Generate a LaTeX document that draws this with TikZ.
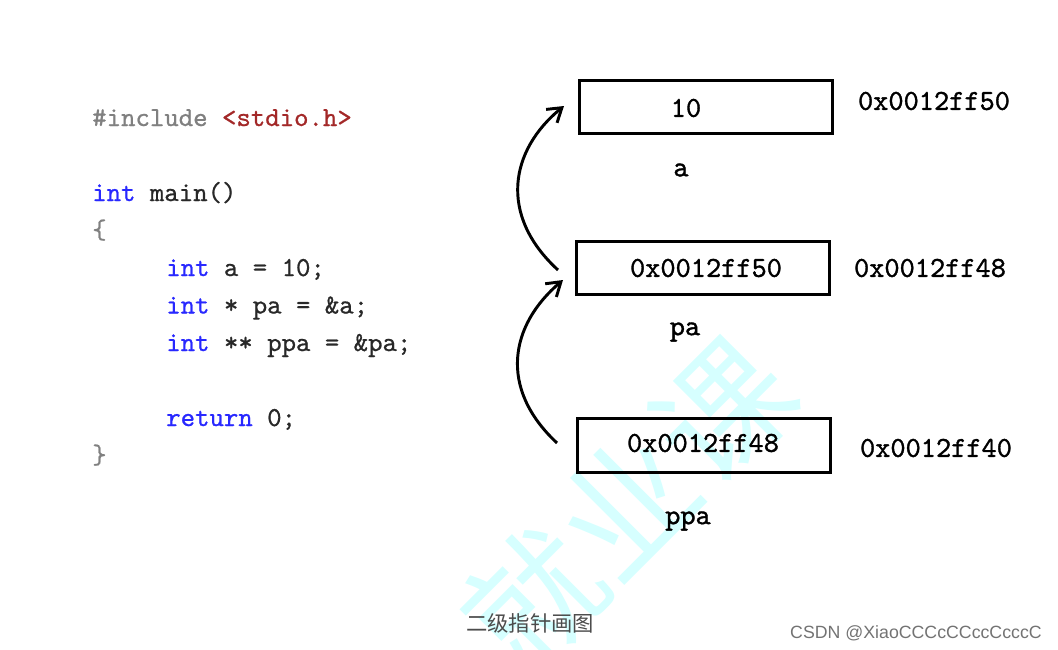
\documentclass[tikz,border=0pt]{standalone}
\usepackage{fontspec}
\newfontfamily\cjk{Noto Sans CJK SC}
\newfontfamily\csdnfont{Liberation Sans}
\newfontfamily\codefont{lmmono10-regular.otf}[FakeBold=0.7]
\newfontfamily\memfont{lmmono10-regular.otf}[FakeBold=1.2]
\usetikzlibrary{arrows.meta}
\definecolor{kwblue}{RGB}{40,40,255}
\definecolor{ppgray}{RGB}{128,128,128}
\definecolor{strred}{RGB}{163,40,40}
\definecolor{codetxt}{RGB}{40,40,40}
\definecolor{wmcyan}{RGB}{120,255,255}
\begin{document}
\begin{tikzpicture}[x=0.75pt,y=-0.75pt,
  codeline/.style={anchor=base west,inner sep=0pt,font=\codefont\fontsize{20.6pt}{24pt}\selectfont,text=codetxt},
  membox/.style={draw,line width=2.2pt,minimum width=190pt,minimum height=40pt,inner sep=0pt},
  memtxt/.style={inner sep=0pt,font=\memfont\fontsize{21.7pt}{24pt}\selectfont,text=black},
  ptrarrow/.style={line width=2.2pt,-{Straight Barb[length=10pt,width=13pt,line width=2.2pt]}},
]
\useasboundingbox (0,0) rectangle (1058,650);
\fill[white] (0,0) rectangle (1058,650);

% watermark
\node[rotate=45,text=wmcyan,opacity=0.3,font=\cjk\fontsize{100pt}{100pt}\selectfont,inner sep=0pt] (wm) at (628,505) {就业课};

% code
\node[codeline] (l0) at (92,126) {\textcolor{ppgray}{\#include} \textcolor{strred}{<stdio.h>}};
\node[codeline] (l2) at (92,201) {\textcolor{kwblue}{int} main()};
\node[codeline] (l3) at (92,238.5) {\textcolor{ppgray}{\{}};
\node[codeline] (l4) at (166,276) {\textcolor{kwblue}{int} a = 10;};
\node[codeline] (l5) at (166,313.5) {\textcolor{kwblue}{int} * pa = \&a;};
\node[codeline] (l6) at (166,351) {\textcolor{kwblue}{int} ** ppa = \&pa;};
\node[codeline] (l8) at (166,426) {\textcolor{kwblue}{return} 0;};
\node[codeline] (l9) at (92,463.5) {\textcolor{ppgray}{\}}};

% memory boxes
\node[membox] (b1) at (706,107) {};
\node[membox] (b2) at (703,268) {};
\node[membox] (b3) at (704,445.5) {};
\node[memtxt] (v1) at (686,108) {10};
\node[memtxt] (v2) at (706,268) {0x0012ff50};
\node[memtxt] (v3) at (703,443) {0x0012ff48};
\node[memtxt] (n1) at (681,170) {a};
\node[memtxt] (n2) at (685,332) {pa};
\node[memtxt] (n3) at (688,521) {ppa};
\node[memtxt] (ad1) at (934,101) {0x0012ff50};
\node[memtxt] (ad2) at (930,268) {0x0012ff48};
\node[memtxt] (ad3) at (936,448) {0x0012ff40};

% arrows
\coordinate (s1) at (558,270);
\coordinate (e1) at (564,106);
\coordinate (s2) at (557,443);
\coordinate (e2) at (563,280);
\draw[ptrarrow] (s1) .. controls (498,215) and (510,150) .. (e1);
\draw[ptrarrow] (s2) .. controls (498,388) and (510,325) .. (e2);

% captions
\node[text=black!70,font=\cjk\fontsize{16pt}{18pt}\selectfont,inner sep=0pt] (cap) at (530,623) {二级指针画图};
\node[text=black!55,font=\csdnfont\fontsize{13.3pt}{15pt}\selectfont,inner sep=0pt] (csdn) at (916,633) {CSDN @XiaoCCCcCCccCcccC};
\end{tikzpicture}
\end{document}
